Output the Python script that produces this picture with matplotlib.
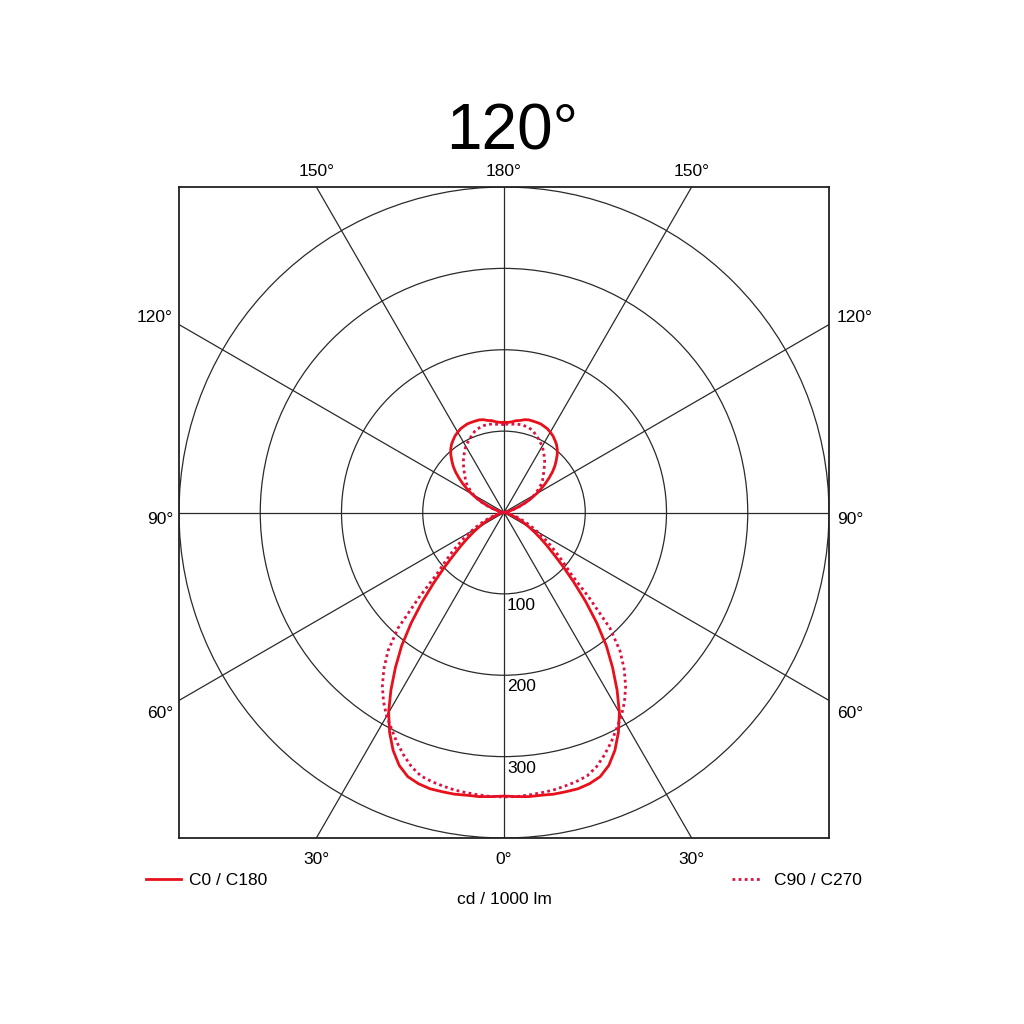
import numpy as np
import matplotlib
matplotlib.use('Agg')
import matplotlib.pyplot as plt
from matplotlib.patches import Circle

plt.rcParams['font.family'] = ['Liberation Sans', 'DejaVu Sans']

# luminous intensity (cd / 1000 lm) vs gamma angle
gamma = np.arange(0, 180.1, 2.5)
c0_c180 = [349, 350, 351, 351, 352, 352, 352, 350, 346, 337,
           323, 305, 284, 259, 233, 207, 178, 149, 122, 99,
           80, 66, 54, 44, 35, 28, 21, 15, 10, 7,
           5, 3, 2, 1, 1, 0, 0,
           0, 1, 1, 2, 4, 7, 11, 16, 22, 30,
           38, 46, 54, 62, 70, 78, 85, 91, 97, 102,
           106, 109, 112, 114, 116, 117, 118, 118, 118, 118,
           117, 115, 114, 112, 111, 111]
c90_c270 = [350, 350, 349, 348, 347, 345, 343, 340, 333, 323,
            312, 300, 289, 276, 261, 243, 222, 193, 148, 112,
            95, 81, 69, 58, 48, 39, 31, 24, 18, 13,
            9, 6, 4, 2, 1, 0, 0,
            0, 1, 1, 3, 5, 8, 12, 18, 24, 31,
            37, 43, 48, 53, 58, 62, 65, 69, 73, 78,
            82, 86, 90, 94, 97, 100, 103, 106, 108, 109,
            110, 110, 110, 109, 109, 108]

rings = [100, 200, 300, 400]
ring_labels = ['100', '200', '300']
spoke_angles = [0, 30, 60, 90, 120, 150]

top_angles = [150, 180, 150]
side_angles = [120, 90, 60]
bottom_angles = [30, 0, 30]
side_dy = {120: 7, 90: -7, 60: -13}   # label nudges in pixels

grid_col = '#2a2a2a'
red = '#e8101a'
crimson = '#e0103e'
fs = 12.5

fig = plt.figure(figsize=(10.24, 10.24), dpi=100)
rect = [179 / 1024, 186 / 1024, 650 / 1024, 651 / 1024]
ax = fig.add_axes(rect)
ax.set_xlim(-400, 400)
ax.set_ylim(-400, 400)
ax.set_xticks([])
ax.set_yticks([])
for s in ax.spines.values():
    s.set_linewidth(1.3)
    s.set_color('#222222')

# rings and spokes
for r in rings:
    ax.add_patch(Circle((0, 0), r, fill=False, lw=0.9, ec=grid_col))
for a in spoke_angles:
    t = np.radians(a)
    ax.axline((0, 0), (np.sin(t), -np.cos(t)), lw=0.9, color=grid_col)

# ring value labels
for r, lab in zip(rings, ring_labels):
    ax.annotate(lab, xy=(0, -r), xytext=(3, -4), textcoords='offset pixels',
                ha='left', va='top', fontsize=fs)

# angle labels round the frame
t30 = np.tan(np.radians(30))
for k, a in enumerate(top_angles):
    x = (k - 1) * 400 * t30
    ax.annotate(f'{a}°', xy=(x, 400), xytext=(0, 16), textcoords='offset pixels',
                ha='center', va='center', fontsize=fs, annotation_clip=False)
for k, a in enumerate(bottom_angles):
    x = (k - 1) * 400 * t30
    ax.annotate(f'{a}°', xy=(x, -400), xytext=(0, -21), textcoords='offset pixels',
                ha='center', va='center', fontsize=fs, annotation_clip=False)
for k, a in enumerate(side_angles):
    y = (1 - k) * 400 * t30
    ax.annotate(f'{a}°', xy=(-400, y), xytext=(-6, side_dy[a]), textcoords='offset pixels',
                ha='right', va='center', fontsize=fs, annotation_clip=False)
    ax.annotate(f'{a}°', xy=(400, y), xytext=(8, side_dy[a]), textcoords='offset pixels',
                ha='left', va='center', fontsize=fs, annotation_clip=False)

# curves on a transparent polar axes laid over the box
pax = fig.add_axes(rect, projection='polar', frameon=False)
pax.set_theta_zero_location('S')
pax.set_rlim(0, 400)
pax.set_axis_off()
pax.patch.set_visible(False)

theta = np.radians(np.concatenate([-gamma[::-1], gamma[1:]]))
r_c0 = np.concatenate([np.array(c0_c180)[::-1], np.array(c0_c180)[1:]])
r_c90 = np.concatenate([np.array(c90_c270)[::-1], np.array(c90_c270)[1:]])

l1, = pax.plot(theta, r_c0, color=red, lw=2.0, label='C0 / C180')
l2, = pax.plot(theta, r_c90, color=crimson, lw=2.0, linestyle=(0, (1.0, 1.2)),
               label='C90 / C270')

# legend entries at the two bottom corners
leg1 = ax.legend(handles=[l1], loc='center left', bbox_to_anchor=(146 / 1024, 1 - 880 / 1024),
                 bbox_transform=fig.transFigure, frameon=False, borderpad=0, borderaxespad=0,
                 handlelength=2.0, handletextpad=0.45, fontsize=fs)
ax.add_artist(leg1)
ax.legend(handles=[l2], loc='center right', bbox_to_anchor=(862 / 1024, 1 - 880 / 1024),
          bbox_transform=fig.transFigure, frameon=False, borderpad=0, borderaxespad=0,
          handlelength=1.75, handletextpad=0.7, fontsize=fs)

fig.text(504 / 1024, 1 - 900 / 1024, 'cd / 1000 lm', ha='center', va='center', fontsize=fs)
fig.text(512 / 1024, 1 - 149 / 1024, '120°', ha='center', va='baseline', fontsize=46)

fig.savefig('out.png', dpi=100, facecolor='white')
